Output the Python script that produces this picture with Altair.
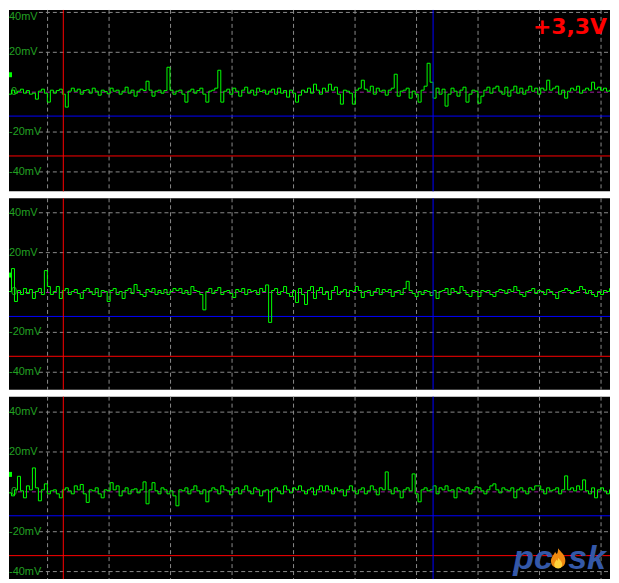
import altair as alt
import pandas as pd
import numpy as np

# ---- scope geometry (time in divisions, voltage in mV) ----
PX_PER_DIV = 61.7
W = 603
T0 = -38.7 / PX_PER_DIV
T1 = T0 + W / PX_PER_DIV
SAMPLE_DT = 3 / PX_PER_DIV
SAMPLE_T0 = -46.7 / PX_PER_DIV

grid_divs = list(range(10))
grid_levels = [40, 20, -20, -40]
grid_labels = ["40mV", "20mV", "-20mV", "-40mV"]
zero_level = [0]
cursor_v_red = [0.256]
cursor_v_blue = [6.269]
cursor_h_blue = [-12]
cursor_h_red = [-32]
marker_lo = [7.5]
marker_hi = [10]
title_text = ["+3,3V"]

trace1 = [
    0, -1.5, 0.5, -1, 1, -0.5, 0.5, 1.5, -0.5, 0.8,
    -1, -0.5, -3.5, 0.5, 1.5, -0.5, -5, 1, -0.5, 0.8,
    1.5, -1, -7.5, 0.5, 2, 0.5, 1.5, -1, 0.8, 1.2,
    -0.5, 2, 0.5, -1.5, 1, 0.3, -0.8, 2, 0.5, 1,
    -1, 0.5, 2.5, -0.5, 1, -2, 0.5, 1.5, 0.8, 5.5,
    1, -2, 0.5, 1, -0.5, 0.8, 12.5, 1, -1, 0.5,
    1, -1, -5, 0.5, 1.5, -0.5, 0.8, 2, -1, -5,
    0.5, 1, 2, 11, -5, 0.5, 1.5, -1, 2, 0.5,
    -2, 1, 2.5, -0.5, 1, -1.5, 2, 0.3, 1, -1,
    0.5, 1.5, -1, 2, -0.5, 0.8, -2.5, 1, -0.5, -5,
    -1.5, 1, 0, 2, -0.5, 4, 1, -1, 2, 0.5,
    4, 1, 2.5, -1, -6, 1, 0.5, -0.5, -6, 1,
    2, 6, 1.5, 0.5, 3, -1, 2, 0.5, 1, -1.5,
    1, 2, 9, -2, 0.5, 1, 2, -3, 0.5, -1,
    -5, 1, 3, 14.5, 5, -3, 2, -1, 1.5, -7,
    -1, 2, 0.5, -2, 1, 2.5, -5, -1, 1, 0.5,
    -5.5, -2, 1, 2.5, -0.5, 2, 3, 0.5, -1, 2.5,
    -2, 1, 3, -0.5, 2, -1, 1, 3, 0.5, 2,
    -1, 2, 1, 6, 1, 2, 3, -1, 1, -3,
    0.5, 2, 1, 3, -0.5, 1, 2, 1, 5, 1.5,
    2.5, 1, 2, 0.5, 1, 0, 1,
]

trace2 = [
    1, -0.5, -2, 0.5, 12, -4.5, 1, -1, 2, -0.5,
    1.5, -3, 0.5, 2, -1, 11, 3, -1, 0.5, 3,
    -3, 1, 2, -1, 0.5, 1.5, -0.5, -3, 1, 2,
    0.5, -1, 2, -2, 1, 0.5, -4.5, 1, 2, -1,
    0.5, -3, 1, 2, -0.5, 4, 1, -1, -2, 1.5,
    0.5, 2, -1, 1, -0.5, 1.5, -1, 0.5, 2, 1,
    2, -0.5, 1, -1, 3, 1, 0.5, -1, -8.7, 0.5,
    2, -0.5, 1, 2.5, -1, 0.5, 1, -0.5, -2.5, 1.5,
    0.5, 2, -1, 1.5, 0.5, 1, -1, 2, 0.5, 3.8,
    -15, 1, 2, -1, 0.5, 3, -0.5, -2, 1, -5,
    2, -1, -6, 1, 3, -3, 1, 2.5, -1, 0.5,
    -3.5, 1, 3, -1, 0.5, 1.5, -2, 1, 0.5, 3,
    1, -2.5, 0.5, 1, -1.5, 0.5, 2, -1, 1.5, 0.5,
    1.5, -2, 0.5, 1, -1, 2, 5.6, 1, -0.5, -2,
    0.5, -1, 1, 0.5, -1.5, 1, -3, 0.5, 1, 2,
    -1, 2, 0.5, -0.5, 3, 1, -1, -2, 1, 0.5,
    -2, 1, 0.5, 1, -1, -2, 0.5, 1.5, 1, -0.5,
    1.5, 0.5, 3, 1, -1, -2, 0.5, 1, 2, -0.5,
    1, 0.5, -1, 1.5, 0.5, -1, -3, 0.5, 1, 2,
    1, -0.5, 0.5, 1, 3, 1.5, -0.5, 1, -1, -2,
    0.5, -1, 1, 0.5, 2, -0.5, -1,
]

trace3 = [
    -1, 0.5, 2, -0.5, -2, 1, 7.8, 0.5, -3, 3,
    1, 12, 2, -4.5, 1, 4, -1, 0.5, 1, -1,
    -3, 1, 2, 0.5, -1, 3, 1, 3.7, -1, -5.3,
    1, 0.5, 2, -1, -3, 1, 0.5, 4.6, 1, 3,
    -2, 0.5, 2, -1, 1, 1.5, -0.5, 1, 5, -6,
    1, 4.6, 0.5, -1, 2, 1, -1, 0.5, -2, -7,
    1, 0.5, 2, -1, 1, 3, 0.5, -1, 1, -5,
    0.5, 2, 1, -1, 3, 1, 0.5, -1.5, 1, 2,
    -1, 1, 3, 0.5, -1, 2, 1, -2, 0.5, 1,
    -5, 1, 2, 0.5, -1, 3, 1, -0.5, 2, 1,
    3, 0.5, -1, 1, 2, -1.5, 1, 3, 0.5, 3,
    1, -1, 2, 0.5, 1, -2, 1, 3, 0.5, -1,
    1, 2, -1, 0.5, 3, 1, -1.5, 2, 1, 10,
    1, -1, 2, 0.5, -3, 1, 2, 0.5, 9, -1,
    -5, 1, 2, 0.5, 1, 3, -1, 2, 1, 3,
    0.5, 1, -3, 2, 1, 0.5, 2, -1, 1, 2.5,
    2, 0.5, -1, 1, 3, 4, 1, -0.5, 2, 1,
    0.5, 2, -3, 1, 2, 0.5, -1, 2, 1, 3,
    3, 1, -1, 2, 0.5, 1, 2, -1, 1, 8,
    1, 2, 0.5, 3, 1, 6, 0.5, -1, 2, -3,
    1, 2, 0.5, -1, 1, 0.5, 1,
]

# y domains chosen so that 1 mV = 2 px
domains = [(-49.75, 41.25), (-48.75, 47.25), (-43.75, 47.75)]
heights = [182, 192, 183]

LABEL_GREEN = "#22a022"
GRID_GREY = "#8a8a8a"
FLAME = "M0,-1 C0.25,-0.6 0.75,-0.35 0.72,0.3 C0.7,0.8 0.35,1 0,1 C-0.35,1 -0.72,0.8 -0.72,0.3 C-0.72,-0.1 -0.45,-0.3 -0.3,-0.65 C-0.15,-0.3 -0.05,-0.35 0,-1 Z"


def label_layer(df, ys, baseline="middle", dy=0):
    return alt.Chart(df).mark_text(
        font="Liberation Sans", fontSize=11, color=LABEL_GREEN, align="left", baseline=baseline, dy=dy
    ).encode(y=alt.Y("mv:Q", scale=ys, axis=None), x=alt.value(0), text="lab:N")


def panel(trace, dom, h, extra=(), shift_top=False):
    xs = alt.Scale(domain=[T0, T1], nice=False, zero=False)
    ys = alt.Scale(domain=list(dom), nice=False, zero=False)
    tdf = pd.DataFrame({"t": SAMPLE_T0 + SAMPLE_DT * np.arange(len(trace)), "mv": trace})

    vgrid = alt.Chart(pd.DataFrame({"t": grid_divs})).mark_rule(
        color=GRID_GREY, strokeDash=[4, 3], strokeWidth=1
    ).encode(x=alt.X("t:Q", scale=xs, axis=None))

    hgrid = alt.Chart(pd.DataFrame({"mv": grid_levels})).mark_rule(
        color=GRID_GREY, strokeDash=[4, 3], strokeWidth=1
    ).encode(y=alt.Y("mv:Q", scale=ys, axis=None), x=alt.value(30), x2=alt.value(W))

    zline = alt.Chart(pd.DataFrame({"mv": zero_level})).mark_rule(
        color="#a020a0", strokeDash=[4, 3], strokeWidth=1
    ).encode(y=alt.Y("mv:Q", scale=ys, axis=None), x=alt.value(9), x2=alt.value(W))

    lab_df = pd.DataFrame({"mv": grid_levels, "lab": grid_labels})
    if shift_top:
        label_layers = [label_layer(lab_df.iloc[1:], ys),
                        label_layer(lab_df.iloc[:1], ys, baseline="top", dy=-1)]
    else:
        label_layers = [label_layer(lab_df, ys)]

    zlabel = alt.Chart(pd.DataFrame({"mv": zero_level, "lab": ["0"]})).mark_text(
        font="Liberation Sans", fontSize=11, color=LABEL_GREEN, align="left", baseline="middle"
    ).encode(y=alt.Y("mv:Q", scale=ys, axis=None), x=alt.value(2), text="lab:N")

    marker = alt.Chart(pd.DataFrame({"lo": marker_lo, "hi": marker_hi})).mark_rect(
        color="#00ff00"
    ).encode(y=alt.Y("lo:Q", scale=ys, axis=None), y2="hi:Q", x=alt.value(0), x2=alt.value(3))

    line = alt.Chart(tdf).mark_line(
        color="#00ff00", strokeWidth=1, clip=True, interpolate="step"
    ).encode(x=alt.X("t:Q", scale=xs, axis=None), y=alt.Y("mv:Q", scale=ys, axis=None))

    cv_red = alt.Chart(pd.DataFrame({"t": cursor_v_red})).mark_rule(color="#ff0000", strokeWidth=1).encode(
        x=alt.X("t:Q", scale=xs, axis=None))
    cv_blue = alt.Chart(pd.DataFrame({"t": cursor_v_blue})).mark_rule(color="#0000ff", strokeWidth=1).encode(
        x=alt.X("t:Q", scale=xs, axis=None))
    ch_blue = alt.Chart(pd.DataFrame({"mv": cursor_h_blue})).mark_rule(color="#0000ff", strokeWidth=1).encode(
        y=alt.Y("mv:Q", scale=ys, axis=None))
    ch_red = alt.Chart(pd.DataFrame({"mv": cursor_h_red})).mark_rule(color="#ff0000", strokeWidth=1).encode(
        y=alt.Y("mv:Q", scale=ys, axis=None))

    layers = [vgrid, hgrid, zline] + label_layers + [zlabel, marker, ch_blue, ch_red, line, cv_red, cv_blue] + list(extra)
    return alt.layer(*layers).properties(width=W, height=h)


title = alt.Chart(pd.DataFrame({"s": title_text})).mark_text(
    font="DejaVu Sans", fontWeight="bold", fontSize=22, color="#ff0000", align="right", baseline="alphabetic"
).encode(x=alt.value(600), y=alt.value(24), text="s:N")

logo_pc = alt.Chart(pd.DataFrame({"s": ["pc"]})).mark_text(
    font="Liberation Sans", fontWeight="bold", fontStyle="italic", fontSize=34, color="#3458a8",
    align="left", baseline="alphabetic"
).encode(x=alt.value(506), y=alt.value(173), text="s:N")
logo_sk = alt.Chart(pd.DataFrame({"s": ["sk"]})).mark_text(
    font="Liberation Sans", fontWeight="bold", fontStyle="italic", fontSize=34, color="#3458a8",
    align="left", baseline="alphabetic"
).encode(x=alt.value(561), y=alt.value(173), text="s:N")
flame_outer = alt.Chart(pd.DataFrame({"s": ["f"]})).mark_point(
    shape=FLAME, filled=True, color="#f08a10", opacity=1, size=400
).encode(x=alt.value(551), y=alt.value(162))
flame_inner = alt.Chart(pd.DataFrame({"s": ["f"]})).mark_point(
    shape=FLAME, filled=True, color="#ffd23a", opacity=1, size=120
).encode(x=alt.value(551), y=alt.value(167))

p1 = panel(trace1, domains[0], heights[0], extra=[title], shift_top=True)
p2 = panel(trace2, domains[1], heights[1])
p3 = panel(trace3, domains[2], heights[2], extra=[logo_pc, logo_sk, flame_outer, flame_inner])

chart = alt.vconcat(p1, p2, p3, spacing=5).properties(
    padding=0, background="white"
).configure_view(fill="black", strokeWidth=0)

chart.save("out.html", embed_options={"renderer": "svg", "actions": False})
